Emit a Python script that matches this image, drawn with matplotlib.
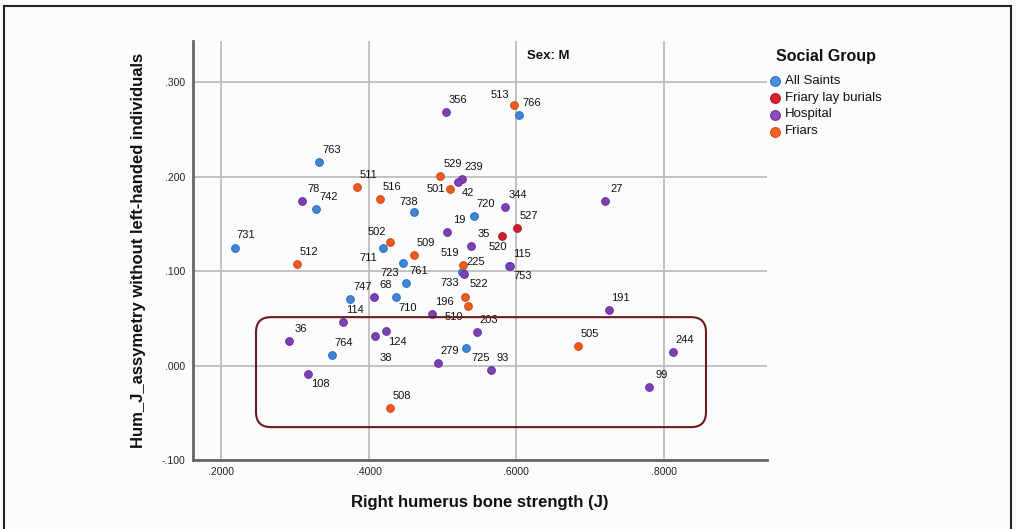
import matplotlib
matplotlib.use('Agg')
import matplotlib.pyplot as plt
from matplotlib.patches import FancyBboxPatch, Rectangle
from matplotlib.lines import Line2D

plt.rcParams['font.family'] = ['Liberation Sans', 'DejaVu Sans']

# ---------------- data ----------------
groups = ['All Saints', 'Friary lay burials', 'Hospital', 'Friars']

ids = ['731', '763', '742', '738', '766', '720', '711', '723', '761', '733', '753', '747', '710', '764', '725',
       '527', '520',
       '356', '239', '42', '78', '344', '27', '19', '35', '225', '115', '68', '196', '191', '114', '36',
       '124', '38', '203', '279', '93', '244', '99', '108',
       '513', '529', '501', '511', '516', '512', '502', '509', '519', '522', '510', '505', '508']

strength = [0.219, 0.333, 0.329, 0.461, 0.604, 0.542, 0.419, 0.447, 0.451, 0.526, 0.590, 0.375, 0.437, 0.350, 0.532,
            0.601, 0.581,
            0.504, 0.526, 0.521, 0.309, 0.585, 0.720, 0.506, 0.539, 0.529, 0.591, 0.407, 0.486, 0.725, 0.365, 0.292,
            0.423, 0.409, 0.546, 0.494, 0.565, 0.812, 0.780, 0.318,
            0.597, 0.497, 0.510, 0.384, 0.415, 0.303, 0.429, 0.461, 0.527, 0.530, 0.534, 0.683, 0.429]

asymmetry = [0.124, 0.215, 0.166, 0.162, 0.265, 0.158, 0.124, 0.109, 0.087, 0.099, 0.105, 0.070, 0.073, 0.011, 0.019,
             0.146, 0.137,
             0.268, 0.197, 0.194, 0.174, 0.168, 0.174, 0.141, 0.127, 0.097, 0.105, 0.073, 0.054, 0.059, 0.046, 0.026,
             0.037, 0.031, 0.035, 0.003, -0.005, 0.014, -0.023, -0.009,
             0.276, 0.201, 0.187, 0.189, 0.176, 0.107, 0.131, 0.117, 0.106, 0.072, 0.063, 0.021, -0.045]

social_group = ['All Saints'] * 15 + ['Friary lay burials'] * 2 + ['Hospital'] * 23 + ['Friars'] * 13

x_ticks = [0.2, 0.4, 0.6, 0.8]
x_tick_labels = ['.2000', '.4000', '.6000', '.8000']
y_ticks = [-0.1, 0.0, 0.1, 0.2, 0.3]
y_tick_labels = ['-.100', '.000', '.100', '.200', '.300']

# ---------------- styles ----------------
face_colors = {'All Saints': '#3f86d6', 'Friary lay burials': '#d11f2b',
               'Hospital': '#7d40b6', 'Friars': '#ea5b1f'}
edge_colors = {'All Saints': '#2a6fc0', 'Friary lay burials': '#b01420',
               'Hospital': '#6a2fa0', 'Friars': '#d84a10'}
legend_colors = {'All Saints': '#4a90dc', 'Friary lay burials': '#d8202c',
                 'Hospital': '#8a4cc0', 'Friars': '#ee6626'}

# label offsets in pixels (dx right, dy down), default (12, -12)
label_offsets = {'513': (-14, -10), '42': (10, 11), '501': (-14, 0), '738': (-5, -10),
                 '520': (-5, 11), '502': (-13, -10), '711': (-14, 10), '723': (-14, 10),
                 '519': (-13, -12), '733': (-12, 11), '753': (14, 10), '710': (12, 11),
                 '510': (-14, 11), '124': (12, 11), '38': (10, 22), '725': (14, 10),
                 '108': (12, 10), '522': (14, -13), '731': (11, -13)}

W, H = 1016, 529
fig = plt.figure(figsize=(W / 100, H / 100), dpi=100)
bg = '#fbfcfd'
fig.patch.set_facecolor(bg)

left, right, top, bottom = 192.5, 766.7, 40.5, 460.0
ax = fig.add_axes([left / W, 1 - bottom / H, (right - left) / W, (bottom - top) / H])
ax.set_facecolor(bg)

ax.set_xlim(0.1614, 0.9389)
ax.set_ylim(-0.1, 0.344)

ax.set_xticks(x_ticks)
ax.set_xticklabels(x_tick_labels, fontsize=7.5, color='#222222')
ax.set_yticks(y_ticks)
ax.set_yticklabels(y_tick_labels, fontsize=7.5, color='#222222')
ax.tick_params(length=0, pad=5)

ax.grid(True, color='#bdbdbd', linewidth=1.3)
ax.set_axisbelow(True)
for s in ['top', 'right']:
    ax.spines[s].set_visible(False)
for s in ['left', 'bottom']:
    ax.spines[s].set_color('#666666')
    ax.spines[s].set_linewidth(2)

# points
for g in groups:
    xs = [x for x, gg in zip(strength, social_group) if gg == g]
    ys = [y for y, gg in zip(asymmetry, social_group) if gg == g]
    ax.scatter(xs, ys, s=30, c=face_colors[g], edgecolors=edge_colors[g], linewidths=0.8, zorder=3)

# labels
for pid, x, y in zip(ids, strength, asymmetry):
    dx, dy = label_offsets.get(pid, (12, -12))
    ax.annotate(pid, (x, y), xytext=(dx * 0.72, -dy * 0.72), textcoords='offset points',
                ha='center', va='center', fontsize=8, color='#111111', zorder=4)

# rounded highlight box
box_x0, box_x1, box_y0, box_y1 = 0.2474, 0.8567, -0.0652, 0.0512
box = FancyBboxPatch((box_x0, box_y0), box_x1 - box_x0, box_y1 - box_y0,
                     boxstyle='round,pad=0,rounding_size=0.0203', mutation_aspect=0.782,
                     facecolor='none', edgecolor='#6b1b1b', linewidth=1.5, zorder=5)
ax.add_patch(box)

# titles
fig.text(479.6 / W, 1 - 502 / H, 'Right humerus bone strength (J)', ha='center', va='center',
         fontsize=12, fontweight='bold', color='#111111')
fig.text(139 / W, 1 - 250 / H, 'Hum_J_assymetry without left-handed individuals', ha='center', va='center',
         rotation=90, fontsize=12, fontweight='bold', color='#111111')
fig.text(548 / W, 1 - 56 / H, 'Sex: M', ha='center', va='center', fontsize=9.5, fontweight='bold',
         color='#111111')

# legend
fig.text(776 / W, 1 - 56 / H, 'Social Group', ha='left', va='center', fontsize=11.5, fontweight='bold',
         color='#111111')
legend_rows = [80.5, 97.5, 114.5, 131.5]
for g, yy in zip(groups, legend_rows):
    fig.add_artist(Line2D([775 / W], [1 - yy / H], marker='o', markersize=7,
                          markerfacecolor=legend_colors[g], markeredgecolor=edge_colors[g],
                          markeredgewidth=0.8, linestyle='none', transform=fig.transFigure))
    fig.text(785 / W, 1 - yy / H, g, ha='left', va='center', fontsize=9.5, color='#111111')

# outer frame
fig.add_artist(Rectangle((4 / W, -0.05), 1007 / W, 1 - 6 / H + 0.05, transform=fig.transFigure,
                         facecolor='none', edgecolor='#222222', linewidth=1.5))

fig.savefig('out.png', dpi=100, facecolor=fig.get_facecolor())
